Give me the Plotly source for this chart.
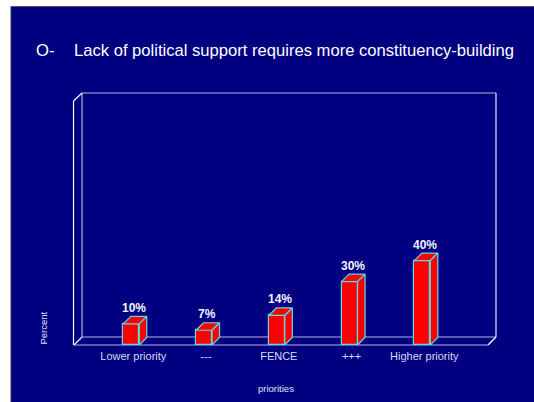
import plotly.graph_objects as go

categories = ["Lower priority", "---", "FENCE", "+++", "Higher priority"]
percent = [10, 7, 14, 30, 40]
value_labels = ["10%", "7%", "14%", "30%", "40%"]
title_mark = "O-"
title_text = "Lack of political support requires more constituency-building"
x_title = "priorities"
y_title = "Percent"

W, H = 534, 402
L, R, T, B = 74, 496, 93, 345      # plot area in pixels
px_x = 72.75                       # pixels per category
px_y = 2.11                        # pixels per percent
first_cat_px = 131.3
depth_px = 7.5
bar_px = 16

x0 = -(first_cat_px - L) / px_x
x1 = (R - first_cat_px) / px_x
ymax = (B - T) / px_y
dx = depth_px / px_x
dy = depth_px / px_y
bw = bar_px / px_x
pos = list(range(len(categories)))

NAVY = "#000080"
RED = "#ff0000"
CYAN = "#50e0e8"
WALL = "#b4b4dc"
FONT = "Liberation Sans, Arial, sans-serif"

fig = go.Figure()
fig.add_trace(go.Bar(x=pos, y=percent, width=bw, marker=dict(color=RED, line=dict(color=CYAN, width=1.2)),
                     showlegend=False, hoverinfo="skip"))
for p, v in zip(pos, percent):
    l, r = p - bw / 2, p + bw / 2
    fig.add_trace(go.Scatter(x=[l, r, r + dx, l + dx, l], y=[v, v, v + dy, v + dy, v], mode="lines",
                             fill="toself", fillcolor=RED, line=dict(color=CYAN, width=1.2),
                             showlegend=False, hoverinfo="skip"))
    fig.add_trace(go.Scatter(x=[r, r + dx, r + dx, r, r], y=[0, dy, v + dy, v, 0], mode="lines",
                             fill="toself", fillcolor=RED, line=dict(color=CYAN, width=1.2),
                             showlegend=False, hoverinfo="skip"))


def fx(px):
    return (px - L) / (R - L)


def fy(py):
    return (B - py) / (B - T)


def seg(a, b, c, d, color, width=1.2):
    return dict(type="line", xref="paper", yref="paper", x0=fx(a), y0=fy(b), x1=fx(c), y1=fy(d),
                line=dict(color=color, width=width), layer="below")


shapes = [
    dict(type="rect", xref="paper", yref="paper", x0=fx(11), x1=fx(W + 2), y0=fy(6.5), y1=fy(H + 2),
         fillcolor=NAVY, line=dict(width=0), layer="below"),
    seg(11, 6.5, W, 6.5, "#555566", 1),
    seg(11, 6.5, 11, H, "#333355", 1),
    seg(82, 93, 496, 93, WALL),
    seg(82, 93, 82, 337, WALL),
    seg(496, 93, 496, 337, "#e8e8f8"),
    seg(82, 337, 496, 337, WALL),
    seg(74, 345, 488, 345, WALL),
    seg(74, 345, 82, 337, "#e8e8f8"),
    seg(488, 345, 496, 337, "#ffffff"),
    seg(73.5, 101, 73.5, 345, "#ffffff"),
    seg(73.5, 101, 82, 93, "#ffffff"),
]

annotations = [
    dict(text=title_mark, xref="paper", yref="paper", x=fx(34), y=fy(51), xanchor="left", yanchor="middle",
         showarrow=False, font=dict(family=FONT, size=16.6, color="white")),
    dict(text=title_text, xref="paper", yref="paper", x=fx(72), y=fy(51), xanchor="left", yanchor="middle",
         showarrow=False, font=dict(family=FONT, size=16.6, color="white")),
    dict(text=x_title, xref="paper", yref="paper", x=fx(276), y=fy(388.5), xanchor="center", yanchor="middle",
         showarrow=False, font=dict(family=FONT, size=9.5, color="#e0e0f4")),
    dict(text=y_title, xref="paper", yref="paper", x=fx(42.5), y=fy(328), xanchor="center", yanchor="middle",
         textangle=-90, showarrow=False, font=dict(family=FONT, size=9.5, color="#e0e0f4")),
]
for p, v, t in zip(pos, percent, value_labels):
    annotations.append(dict(text=f"<b>{t}</b>", x=p, y=v, xref="x", yref="y", xanchor="center", yanchor="bottom",
                            xshift=3, yshift=dy * px_y - 0.5, showarrow=False,
                            font=dict(family=FONT, size=12, color="#f4f4fc")))

fig.update_layout(
    width=W, height=H,
    margin=dict(l=L, r=W - R, t=T, b=H - B, pad=0),
    paper_bgcolor="white", plot_bgcolor="rgba(0,0,0,0)",
    shapes=shapes, annotations=annotations, showlegend=False,
    bargap=0,
    xaxis=dict(range=[x0, x1], tickmode="array", tickvals=[p + 2 / px_x for p in pos], ticktext=categories,
               showgrid=False, zeroline=False, showline=False, ticks="", ticklabelstandoff=3,
               tickfont=dict(family=FONT, size=11, color="#d8d8f0"), tickangle=0),
    yaxis=dict(range=[0, ymax], showgrid=False, zeroline=False, showline=False, showticklabels=False, ticks=""),
)
fig.write_html("out.html", config=dict(displayModeBar=False),
               post_script="document.body.style.margin='0';document.documentElement.style.overflow='hidden';")
